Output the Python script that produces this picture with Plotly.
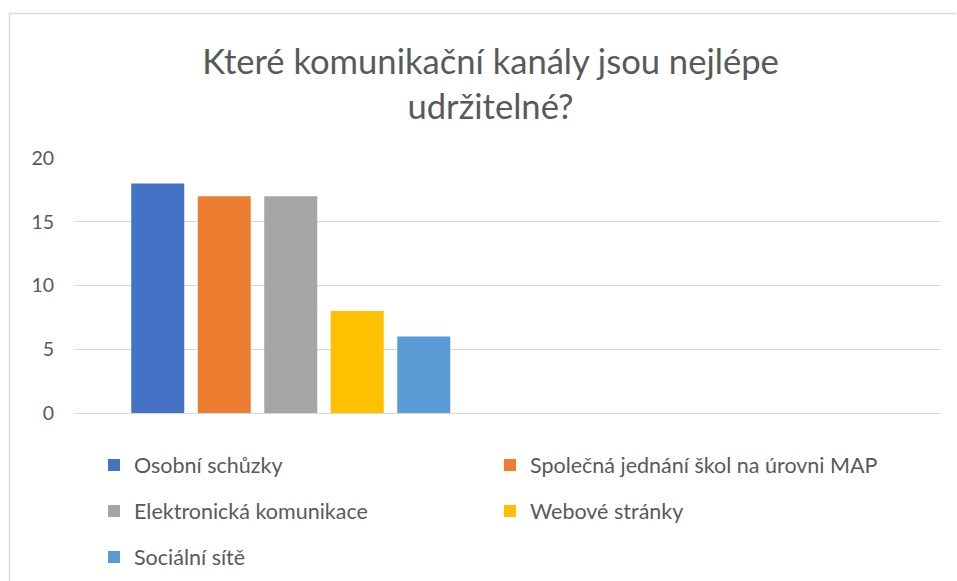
import plotly.graph_objects as go

title_text = "Které komunikační kanály jsou nejlépe<br>udržitelné?"
series_names = [
    "Osobní schůzky",
    "Společná jednání škol na úrovni MAP",
    "Elektronická komunikace",
    "Webové stránky",
    "Sociální sítě",
]
series_values = [18, 17, 17, 8, 6]
series_colors = ["#4472C4", "#ED7D31", "#A5A5A5", "#FFC000", "#5B9BD5"]
y_ticks = [0, 5, 10, 15, 20]

FONT = "Lato"
TXT = "#595959"
GRID = "#D9D9D9"

W, H = 957, 581
ML, MR, MT, MB = 74, 16, 158, 168
PW = W - ML - MR
PH = H - MT - MB

legend_of = ["legend", "legend", "legend2", "legend2", "legend3"]

fig = go.Figure()
for name, val, col, lg in zip(series_names, series_values, series_colors, legend_of):
    fig.add_trace(go.Bar(x=[0], y=[val], name=name, marker=dict(color=col, line=dict(width=0)),
                         legend=lg))

def px_x(x):
    return (x - ML) / PW

def px_y(y):
    return (H - MB - y) / PH

leg_common = dict(orientation="h", entrywidth=351, entrywidthmode="pixels",
                  font=dict(family=FONT, size=21.5, color=TXT), bgcolor="rgba(0,0,0,0)",
                  xanchor="left", yanchor="middle", itemwidth=30, tracegroupgap=0)

fig.update_layout(
    width=W, height=H,
    margin=dict(l=ML, r=MR, t=MT, b=MB, autoexpand=False),
    paper_bgcolor="white", plot_bgcolor="white",
    barmode="group", bargap=0.233, bargroupgap=0.203,
    showlegend=True,
    title=dict(text=title_text, x=490.5 / W, xref="container", xanchor="center",
               y=1 - 74 / H, yref="container", yanchor="middle",
               font=dict(family=FONT, size=34.6, color=TXT)),
    xaxis=dict(range=[-0.5, 1.5], showticklabels=False, showgrid=False, zeroline=False,
               showline=False, fixedrange=True),
    yaxis=dict(range=[0, 20], tickvals=y_ticks, showgrid=True, gridcolor=GRID, gridwidth=1.3,
               zeroline=True, zerolinecolor=GRID, zerolinewidth=1.3, showline=False,
               tickfont=dict(family=FONT, size=19.5, color=TXT), ticklabelstandoff=19),
    legend=dict(x=px_x(94), y=px_y(465), **leg_common),
    legend2=dict(x=px_x(94), y=px_y(511), **leg_common),
    legend3=dict(x=px_x(94), y=px_y(557), **leg_common),
    shapes=[
        dict(type="line", xref="paper", yref="paper", x0=px_x(9.5), x1=px_x(9.5),
             y0=px_y(13.5), y1=px_y(600), line=dict(color=GRID, width=1.5)),
        dict(type="line", xref="paper", yref="paper", x0=px_x(9.5), x1=px_x(956),
             y0=px_y(13.5), y1=px_y(13.5), line=dict(color=GRID, width=1.5)),
    ],
)

fig.write_html("out.html", config={"displayModeBar": False},
               post_script="document.body.style.margin='0';document.body.style.overflow='hidden';")
